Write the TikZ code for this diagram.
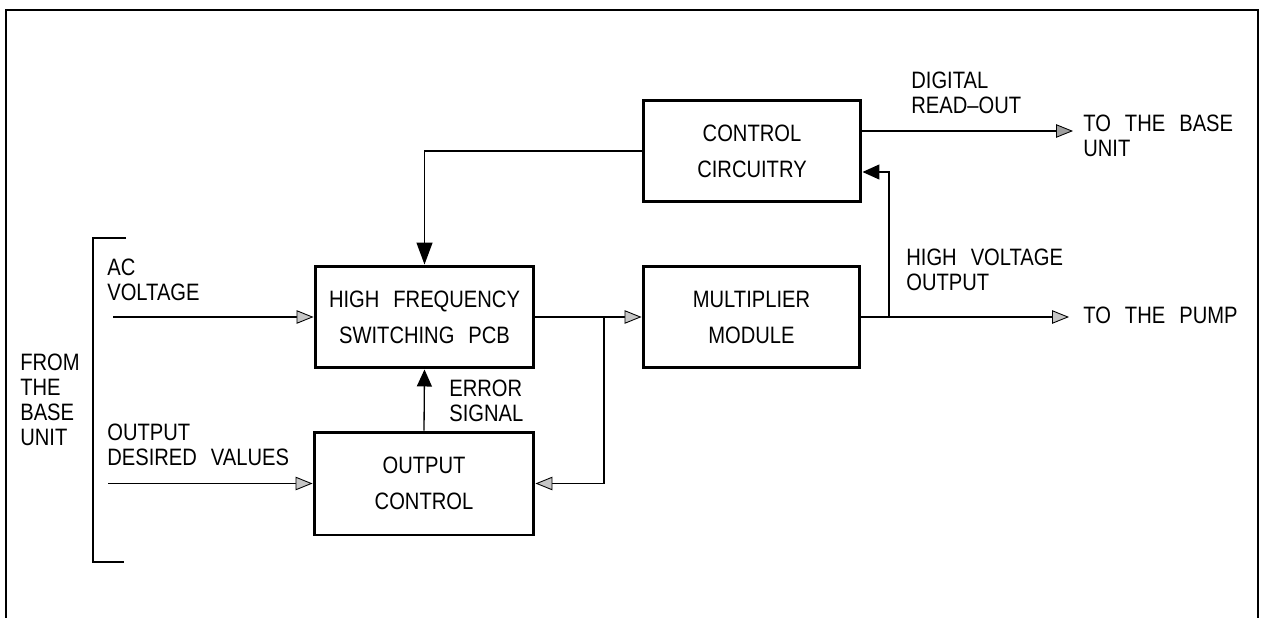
\documentclass[tikz,border=0pt]{standalone}
\usepackage{fontspec}
\setmainfont{Liberation Sans}[FakeStretch=0.85,WordSpace=2.5]
\usetikzlibrary{arrows.meta,calc}
\begin{document}
\begin{tikzpicture}[x=0.02cm,y=-0.02cm,
  lbl/.style={font=\fontsize{13.5}{14.2}\selectfont, align=left, anchor=west, inner sep=0pt},
  blk/.style={draw, line width=1.7pt, font=\fontsize{13.5}{20.5}\selectfont, align=center, inner sep=0pt},
  conn/.style={line width=0.75pt},
  garrow/.style={conn, -{Triangle[length=0.34cm,width=0.27cm,fill=gray!45,line width=0.5pt]}},
  darrow/.style={conn, -{Triangle[length=0.34cm,width=0.27cm,fill=gray!75,line width=0.5pt]}},
  barrow/.style={conn, -{Triangle[length=0.44cm,width=0.32cm]}},
  sarrow/.style={conn, -{Triangle[length=0.34cm,width=0.3cm]}}]
\useasboundingbox (0,0) rectangle (1264,618);
% frame
\draw[line width=1.3pt] (6,618) -- (6,10) -- (1258,10) -- (1258,618);
% blocks
\node[blk, minimum width=4.36cm, minimum height=2.04cm] (ctrl) at (752,151) {CONTROL\\CIRCUITRY};
\node[blk, minimum width=4.38cm, minimum height=2.04cm] (hf) at (424.5,317) {HIGH FREQUENCY\\SWITCHING PCB};
\node[blk, minimum width=4.34cm, minimum height=2.04cm] (mult) at (751.5,317) {MULTIPLIER\\MODULE};
\node[blk, minimum width=4.40cm, minimum height=2.06cm] (oc) at (424,483.5) {OUTPUT\\CONTROL};
% labels
\node[lbl] (aclbl) at (107,279.5) {AC\\VOLTAGE};
\node[lbl] (fromlbl) at (20,399.5) {FROM\\THE\\BASE\\UNIT};
\node[lbl] (dvlbl) at (107,444.5) {OUTPUT\\DESIRED VALUES};
\node[lbl] (errlbl) at (449,400.5) {ERROR\\SIGNAL};
\node[lbl] (diglbl) at (911,92.5) {DIGITAL\\READ--OUT};
\node[lbl] (baselbl) at (1083,135.5) {TO THE BASE\\UNIT};
\node[lbl] (hvlbl) at (906,269.5) {HIGH VOLTAGE\\OUTPUT};
\node[lbl] (pumplbl) at (1083,315) {TO THE PUMP};
% bracket
\draw[line width=0.75pt] (126,238) -- (93,238) -- (93,562) -- (124,562);
% coordinates
\coordinate (acin) at (113,317);
\coordinate (dvin) at (108,483.5);
\coordinate (j) at (604,317);
\coordinate (hv) at (889,317);
\coordinate (pumpend) at (1069,317);
\coordinate (readend) at (1073,131);
% connectors
\draw[garrow] (acin) -- (hf.west);
\draw[garrow] (dvin) -- (oc.west);
\draw[garrow] (hf.east) -- (mult.west);
\draw[garrow] (j) |- (oc.east);
\draw[sarrow] (oc.north) -- (hf.south);
\draw[barrow] (ctrl.west) -| (hf.north);
\draw[garrow] (mult.east) -- (pumpend);
\draw[sarrow] (hv) |- ($(ctrl.east)+(0,21)$);
\draw[darrow] ($(ctrl.east)+(0,-20)$) -- (readend);
\end{tikzpicture}
\end{document}
